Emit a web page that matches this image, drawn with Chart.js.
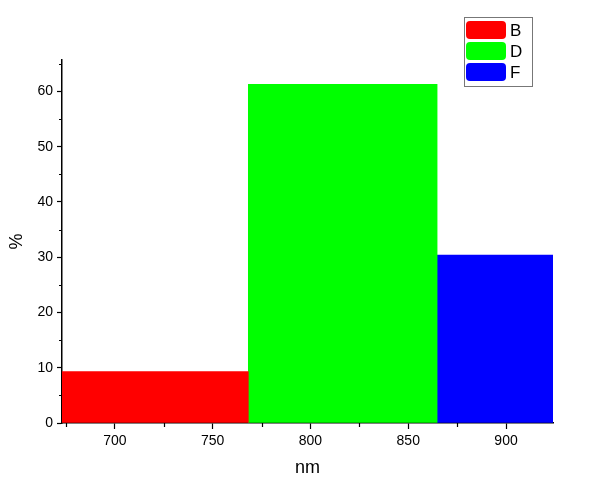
<!DOCTYPE html>
<html>
<head>
<meta charset="utf-8">
<script src="https://cdn.jsdelivr.net/npm/chart.js@4/dist/chart.umd.min.js"></script>
<style>
  html, body { margin: 0; padding: 0; background: #fff; }
</style>
</head>
<body>
<canvas id="chart" width="600" height="492"></canvas>
<script>
// bin centres (nm) and percentage for each series
const seriesNames = ['B', 'D', 'F'];
const binCenters = [720, 816.5, 913];
const percentValues = [9.3, 61.3, 30.4];
const seriesColors = ['#ff0000', '#00ff00', '#0000ff'];
const xTicks = [700, 750, 800, 850, 900];
const xMinorTicks = [675, 725, 775, 825, 875];
const yTicks = [0, 10, 20, 30, 40, 50, 60];
const yMinorTicks = [5, 15, 25, 35, 45, 55, 65];

const xMin = 673, xMax = 924;
const fontFamily = '"Liberation Sans", Arial, sans-serif';

const datasets = seriesNames.map((name, i) => ({
    label: name,
    data: [{ x: binCenters[i], y: percentValues[i] }],
    backgroundColor: seriesColors[i],
    borderWidth: 0,
    barPercentage: 1,
    categoryPercentage: 1,
    grouped: false,
    xAxisID: 'xb'
}));

// short minor ticks on both axes
const minorTicks = {
    id: 'minorTicks',
    afterDraw(chart) {
        const ctx = chart.ctx;
        const xs = chart.scales.x, ys = chart.scales.y;
        const a = chart.chartArea;
        ctx.save();
        ctx.strokeStyle = '#000';
        ctx.lineWidth = 1.2;
        ctx.beginPath();
        xMinorTicks.forEach(v => {
            const px = Math.round(xs.getPixelForValue(v)) + 0.5;
            ctx.moveTo(px, a.bottom);
            ctx.lineTo(px, a.bottom + 4);
        });
        yMinorTicks.forEach(v => {
            const py = Math.round(ys.getPixelForValue(v)) + 0.5;
            ctx.moveTo(a.left - 3, py);
            ctx.lineTo(a.left, py);
        });
        ctx.stroke();
        ctx.restore();
    }
};

// legend box in the top right corner
const boxLegend = {
    id: 'boxLegend',
    afterDraw(chart) {
        const ctx = chart.ctx;
        const x0 = 464, y0 = 17, w = 68, h = 69;
        ctx.save();
        ctx.strokeStyle = '#777';
        ctx.lineWidth = 1;
        ctx.strokeRect(x0 + 0.5, y0 + 0.5, w, h);
        chart.data.datasets.forEach((ds, i) => {
            const y = y0 + 4 + i * 21;
            ctx.fillStyle = ds.backgroundColor;
            ctx.beginPath();
            ctx.roundRect(x0 + 2, y, 40, 18, 4);
            ctx.fill();
            ctx.fillStyle = '#000';
            ctx.font = '17px ' + fontFamily;
            ctx.textBaseline = 'middle';
            ctx.fillText(ds.label, x0 + 46, y + 10);
        });
        ctx.restore();
    }
};

const majorColor = list => ctx => (ctx.tick && !list.includes(ctx.tick.value)) ? 'rgba(0,0,0,0)' : '#000';

new Chart(document.getElementById('chart'), {
    type: 'bar',
    data: { datasets: datasets },
    plugins: [minorTicks, boxLegend],
    options: {
        responsive: false,
        animation: false,
        layout: { padding: { top: 60, right: 47, left: 0, bottom: 0 } },
        plugins: {
            legend: { display: false },
            tooltip: { enabled: false }
        },
        scales: {
            // hidden axis that carries the bars, so bar width follows the bin spacing
            xb: {
                type: 'linear',
                position: 'bottom',
                display: false,
                min: xMin,
                max: xMax,
                offset: false,
                grid: { offset: false },
                ticks: { stepSize: 1000 }
            },
            x: {
                type: 'linear',
                position: 'bottom',
                min: xMin,
                max: xMax,
                offset: false,
                grid: { offset: false, drawOnChartArea: false, tickLength: 6, tickWidth: 1.2, tickColor: majorColor(xTicks) },
                border: { color: '#000', width: 1.5 },
                ticks: {
                    stepSize: 25,
                    includeBounds: false,
                    autoSkip: false,
                    maxRotation: 0,
                    color: '#000',
                    font: { family: fontFamily, size: 14 },
                    padding: 4,
                    callback: v => xTicks.includes(v) ? v : ''
                },
                title: {
                    display: true,
                    text: 'nm',
                    color: '#000',
                    font: { family: fontFamily, size: 18 },
                    padding: { top: 2, bottom: 13 }
                },
                afterFit: s => { s.height = 69; }
            },
            y: {
                min: 0,
                max: 65.7,
                grid: { drawOnChartArea: false, tickLength: 5, tickWidth: 1.2, tickColor: majorColor(yTicks) },
                border: { color: '#000', width: 1.5 },
                ticks: {
                    stepSize: 5,
                    includeBounds: false,
                    autoSkip: false,
                    color: '#000',
                    font: { family: fontFamily, size: 14 },
                    padding: 4,
                    callback: v => yTicks.includes(v) ? v : ''
                },
                title: {
                    display: true,
                    text: '%',
                    color: '#000',
                    font: { family: fontFamily, size: 18 },
                    padding: { top: 6, bottom: 10 }
                },
                afterFit: s => { s.width = 62; }
            }
        }
    }
});
</script>
</body>
</html>
